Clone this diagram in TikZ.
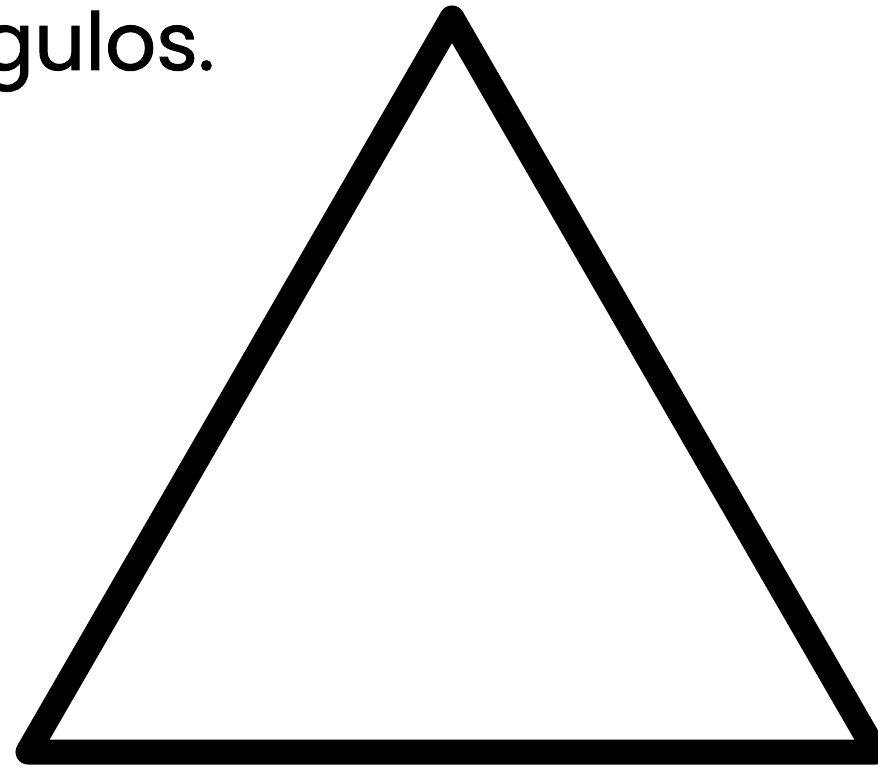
\documentclass[tikz,border=0pt]{standalone}
\usepackage{fontspec}
\setmainfont{Poppins}
\newfontfamily\titlefont[FakeBold=1.2]{Poppins}
\begin{document}
\begin{tikzpicture}[x=1pt,y=1pt,
  edge/.style={line width=25pt,line join=round,line cap=round,black},
  title/.style={font=\titlefont\fontsize{80}{90}\selectfont,inner sep=0pt,text=black}]
\useasboundingbox (0,0) rectangle (878,769);
\clip (0,0) rectangle (878,769);
\coordinate (A) at (452,751);
\coordinate (B) at (28,17);
\coordinate (C) at (876,17);
\draw[edge] (A) -- (B) -- (C) -- cycle;
\node[title,anchor=base east] (t) at (215,699) {gulos.};
\end{tikzpicture}
\end{document}
